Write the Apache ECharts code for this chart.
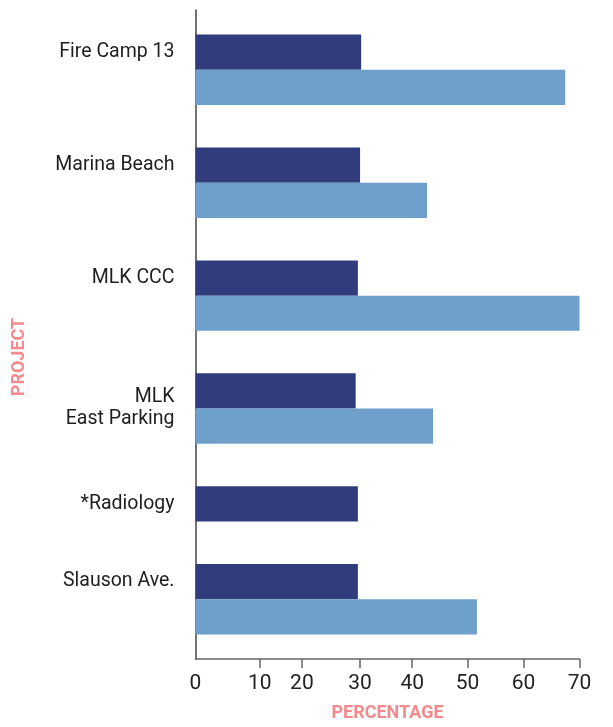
<!DOCTYPE html>
<html>
<head>
<meta charset="utf-8">
<title>Project percentages</title>
<script src="https://cdn.jsdelivr.net/npm/echarts@6/dist/echarts.min.js"></script>
<style>
  html, body { margin: 0; padding: 0; background: #ffffff; }
  #chart { width: 613px; height: 727px; }
</style>
</head>
<body>
<div id="chart"></div>
<script>
// Projects, top to bottom
const projects = ['Fire Camp 13', 'Marina Beach', 'MLK CCC', 'MLK\nEast Parking', '*Radiology', 'Slauson Ave.'];
// First series (navy) and second series (light blue), in percent
const darkValues = [30.2, 30.0, 29.6, 29.2, 29.6, 29.6];
const lightValues = [67.4, 42.2, 70.0, 43.3, null, 51.3];
// Tick labels along the percentage axis and where each one sits on the scale
const xTickLabels = ['0', '10', '20', '30', '40', '50', '60', '70'];
const xTickSpots = [0, 11.7, 19.4, 30, 39.5, 49.6, 59.8, 70];

// Vertical layout in bar-height units: bars of a project touch, projects are
// separated by a fixed gap, and a project without a second bar takes one row.
const BAR = 1, GAP = 1.21, PAD = 0.7;
const darkData = [], lightData = [], labelSpots = [];
let cursor = PAD;
projects.forEach((name, i) => {
  const top = cursor;
  darkData.push([darkValues[i], top]);
  let span = BAR;
  if (lightValues[i] != null) {
    lightData.push([lightValues[i], top + BAR]);
    span = 2 * BAR;
  }
  labelSpots.push(name.indexOf('\n') >= 0 ? top + span / 2 : top + BAR / 2);
  cursor = top + span + GAP;
});
const yMax = cursor - GAP + PAD;

function barRenderer(color) {
  return function (params, api) {
    const v = api.value(0), p = api.value(1);
    const a = api.coord([0, p]);
    const b = api.coord([v, p + BAR]);
    return {
      type: 'rect',
      shape: { x: a[0], y: Math.min(a[1], b[1]), width: b[0] - a[0], height: Math.abs(b[1] - a[1]) },
      style: { fill: color }
    };
  };
}

const chart = echarts.init(document.getElementById('chart'), null, { renderer: 'canvas' });
chart.setOption({
  animation: false,
  backgroundColor: '#ffffff',
  textStyle: { fontFamily: 'Roboto, "Noto Sans", sans-serif' },
  grid: { left: 195.5, right: 33.5, top: 10, bottom: 63, containLabel: false },
  xAxis: {
    type: 'value',
    min: 0,
    max: 70,
    name: 'PERCENTAGE',
    nameLocation: 'middle',
    nameGap: 45,
    nameTextStyle: { color: '#F38B8E', fontWeight: 'bold', fontSize: 18, fontFamily: 'Roboto, sans-serif' },
    axisLine: { show: true, onZero: false, lineStyle: { color: '#666666', width: 1.5 } },
    axisTick: {
      show: true, length: 9, inside: false,
      customValues: xTickSpots.slice(1),
      lineStyle: { color: '#666666', width: 1.5 }
    },
    axisLabel: {
      customValues: xTickSpots,
      formatter: function (v) {
        let best = 0;
        xTickSpots.forEach((s, i) => { if (Math.abs(s - v) < Math.abs(xTickSpots[best] - v)) best = i; });
        return xTickLabels[best];
      },
      color: '#222222', fontSize: 21, margin: 14
    },
    splitLine: { show: false }
  },
  yAxis: {
    type: 'value',
    inverse: true,
    min: 0,
    max: yMax,
    axisLine: { show: true, onZero: false, lineStyle: { color: '#444444', width: 1.5 } },
    axisTick: { show: false },
    splitLine: { show: false },
    axisLabel: {
      customValues: labelSpots,
      formatter: function (v) {
        let best = 0;
        labelSpots.forEach((s, i) => { if (Math.abs(s - v) < Math.abs(labelSpots[best] - v)) best = i; });
        return projects[best];
      },
      color: '#1e1e1e', fontSize: 19.5, lineHeight: 22, margin: 21, align: 'right'
    }
  },
  graphic: [{
    type: 'text',
    x: 19,
    y: 357,
    rotation: Math.PI / 2,
    style: {
      text: 'PROJECT',
      fill: '#F38B8E',
      font: 'bold 18px Roboto, sans-serif',
      align: 'center',
      verticalAlign: 'middle'
    }
  }],
  series: [
    { type: 'custom', name: 'Series 1', renderItem: barRenderer('#303C7B'), data: darkData, z: 3 },
    { type: 'custom', name: 'Series 2', renderItem: barRenderer('#6EA0CB'), data: lightData, z: 3 }
  ]
});
</script>
</body>
</html>
